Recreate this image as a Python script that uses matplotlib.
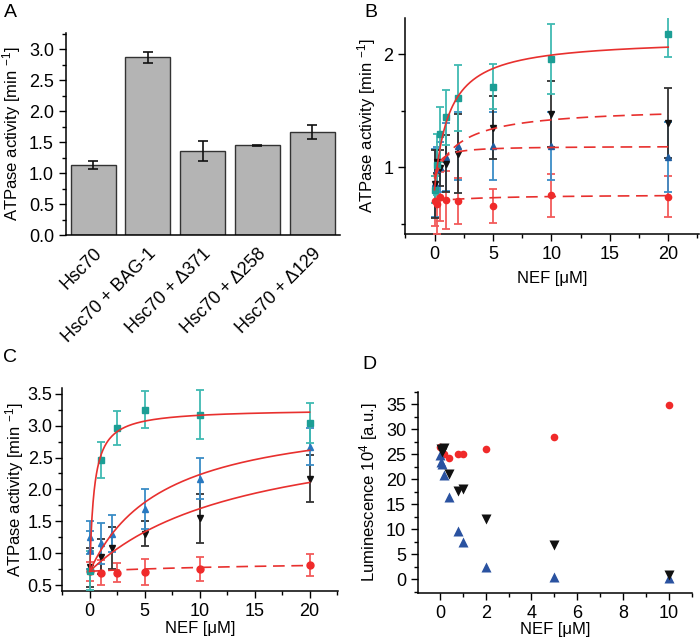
import numpy as np
import matplotlib.pyplot as plt
from matplotlib.ticker import MultipleLocator

plt.rcParams['font.family'] = ['Liberation Sans', 'DejaVu Sans']
plt.rcParams['font.size'] = 13
plt.rcParams['axes.labelsize'] = 12
plt.rcParams['mathtext.default'] = 'regular'

# --- panel A: bars ---
bar_labels = ["Hsc70", "Hsc70 + BAG-1", "Hsc70 + \u0394371", "Hsc70 + \u0394258", "Hsc70 + \u0394129"]
bar_values = [1.13, 2.87, 1.36, 1.45, 1.67]
bar_errors = [0.06, 0.09, 0.16, 0.01, 0.11]

# --- panel B ---
b_x = [0, 0.25, 0.5, 1, 2, 5, 10, 20]
b_teal = [0.80, 1.02, 1.29, 1.44, 1.61, 1.71, 1.96, 2.18]
b_teal_err = [0.12, 0.27, 0.24, 0.24, 0.29, 0.20, 0.31, 0.21]
b_black = [0.85, 1.05, 0.99, 1.03, 1.12, 1.35, 1.47, 1.39]
b_black_err = [0.30, 0.10, 0.16, 0.25, 0.35, 0.28, 0.29, 0.31]
b_blue = [0.86, 0.98, 1.00, 1.09, 1.19, 1.19, 1.19, 1.09]
b_blue_err = [0.30, 0.20, 0.22, 0.30, 0.30, 0.30, 0.30, 0.31]
b_red = [0.70, 0.67, 0.74, 0.71, 0.70, 0.66, 0.75, 0.74]
b_red_err = [0.22, 0.26, 0.22, 0.26, 0.20, 0.15, 0.19, 0.18]
# hyperbolic fits: y0, amplitude, K
b_fit_teal = (0.80, 1.34, 1.25)
b_fit_black = (0.90, 0.632, 2.18)
b_fit_blue = (0.90, 0.286, 0.43)
b_fit_red = (0.70, 0.06, 5.0)

# --- panel C ---
c_x_teal = [0, 1, 2.5, 5, 10, 20]
c_teal = [0.73, 2.46, 2.96, 3.25, 3.17, 3.04]
c_teal_err = [0.30, 0.28, 0.27, 0.29, 0.38, 0.32]
c_x_blue = [0, 0, 1, 2, 5, 10, 20]
c_blue = [1.25, 1.05, 1.16, 1.31, 1.69, 2.17, 2.67]
c_blue_err = [0.26, 0.30, 0.32, 0.29, 0.31, 0.32, 0.29]
c_x_black = [0, 1, 2, 5, 10, 20]
c_black = [0.78, 0.95, 1.09, 1.31, 1.55, 2.17]
c_black_err = [0.30, 0.27, 0.33, 0.20, 0.38, 0.37]
c_x_red = [0, 1, 2.5, 5, 10, 20]
c_red = [0.72, 0.70, 0.70, 0.71, 0.75, 0.82]
c_red_err = [0.15, 0.19, 0.15, 0.20, 0.19, 0.17]
c_fit_teal = (0.72, 2.54, 0.405)
c_fit_blue = (0.72, 2.53, 6.73)
c_fit_black = (0.72, 2.39, 14.4)
c_fit_red = (0.72, 0.18, 20.0)

# --- panel D ---
d_x_red = [0, 0.2, 0.4, 0.8, 1, 2, 5, 10]
d_red = [26.5, 25.0, 24.3, 25.1, 25.1, 26.1, 28.4, 34.9]
d_x_black = [0.05, 0.1, 0.2, 0.4, 0.8, 1, 2, 5, 10]
d_black = [26.0, 25.5, 26.3, 21.1, 17.7, 18.0, 12.1, 6.9, 0.9]
d_x_blue = [0, 0.05, 0.1, 0.2, 0.4, 0.8, 1, 2, 5, 10]
d_blue = [24.8, 23.5, 23.1, 20.8, 16.5, 9.6, 7.5, 2.5, 0.5, 0.2]

teal, teal_e = '#1c9e95', '#40bab2'
blue, blue_e = '#1f5c9e', '#3a8cc6'
blue_c = '#2878c0'
black, black_e = '#111111', '#333333'
red, red_e = '#f02a2a', '#f25a5a'
fitred = '#e8302e'


def hyper(p, x):
    y0, a, k = p
    return y0 + a * x / (k + x)


def style(ax):
    for s in ['top', 'right']:
        ax.spines[s].set_visible(False)
    for s in ['left', 'bottom']:
        ax.spines[s].set_linewidth(1.1)
    ax.tick_params(which='major', direction='out', length=5, width=1)
    ax.tick_params(which='minor', direction='out', length=3, width=1)


def errpts(ax, x, y, e, mk, mc, ec, ms):
    ax.errorbar(x, y, yerr=e, fmt=mk, color=mc, ecolor=ec, ms=ms,
                elinewidth=1.3, capsize=2.8, capthick=1.3, zorder=3)


fig = plt.figure(figsize=(7, 6.39), dpi=100)

# A
axA = fig.add_axes([0.094, 0.632, 0.391, 0.316])
pos = np.arange(len(bar_values))
axA.bar(pos, bar_values, width=0.82, color='#b4b4b4', edgecolor='#333333', linewidth=1)
axA.errorbar(pos, bar_values, yerr=bar_errors, fmt='none', ecolor='#111111',
             elinewidth=1.2, capsize=3.5, capthick=1.2)
axA.set_xlim(-0.5, 4.5)
axA.set_ylim(0, 3.26)
axA.yaxis.set_minor_locator(MultipleLocator(0.25))
axA.set_yticks(np.arange(0, 3.01, 0.5))
axA.set_yticklabels(['%.1f' % v for v in np.arange(0, 3.01, 0.5)])
axA.set_xticks(pos)
axA.set_xticklabels(bar_labels, rotation=45, ha='right', rotation_mode='anchor')
axA.set_ylabel('ATPase activity [min $^{-1}$]', labelpad=4)
style(axA)
axA.tick_params(axis='x', length=0, pad=7)

# B
axB = fig.add_axes([0.579, 0.634, 0.419, 0.338])
xx = np.linspace(0, 20, 400)
errpts(axB, b_x, b_red, b_red_err, 'o', red, red_e, 4.5)
errpts(axB, b_x, b_blue, b_blue_err, '^', blue, blue_e, 4.5)
errpts(axB, b_x, b_black, b_black_err, 'v', black, black_e, 4.5)
errpts(axB, b_x, b_teal, b_teal_err, 's', teal, teal_e, 4)
axB.plot(xx, hyper(b_fit_teal, xx), color=fitred, lw=1.2, zorder=4)
for p in [b_fit_black, b_fit_blue, b_fit_red]:
    axB.plot(xx, hyper(p, xx), color=fitred, lw=1.2, ls=(0, (7, 4)), zorder=4)
axB.set_xlim(-2.5, 22.6)
axB.set_ylim(0.41, 2.32)
axB.xaxis.set_major_locator(MultipleLocator(5))
axB.xaxis.set_minor_locator(MultipleLocator(2.5))
axB.set_yticks([1, 2])
axB.yaxis.set_minor_locator(MultipleLocator(0.5))
axB.set_xlabel('NEF [\u03bcM]', labelpad=6)
axB.set_ylabel('ATPase activity [min $^{-1}$]')
style(axB)

# C
axC = fig.add_axes([0.089, 0.075, 0.394, 0.318])
errpts(axC, c_x_red, c_red, c_red_err, 'o', red, red_e, 5)
errpts(axC, c_x_black, c_black, c_black_err, 'v', black, black_e, 5)
errpts(axC, c_x_blue, c_blue, c_blue_err, '^', blue_c, blue_e, 5)
errpts(axC, c_x_teal, c_teal, c_teal_err, 's', teal, teal_e, 4.5)
for p in [c_fit_teal, c_fit_blue, c_fit_black]:
    axC.plot(xx, hyper(p, xx), color=fitred, lw=1.2, zorder=4)
axC.plot(xx, hyper(c_fit_red, xx), color=fitred, lw=1.2, ls=(0, (7, 4)), zorder=4)
axC.set_xlim(-2.5, 22.6)
axC.set_ylim(0.41, 3.59)
axC.xaxis.set_major_locator(MultipleLocator(5))
axC.xaxis.set_minor_locator(MultipleLocator(2.5))
axC.set_yticks(np.arange(0.5, 3.51, 0.5))
axC.set_yticklabels(['%.1f' % v for v in np.arange(0.5, 3.51, 0.5)])
axC.yaxis.set_minor_locator(MultipleLocator(0.25))
axC.tick_params(axis='y', pad=2)
axC.set_xlabel('NEF [\u03bcM]', labelpad=1)
axC.set_ylabel('ATPase activity [min $^{-1}$]', labelpad=1)
style(axC)

# D
axD = fig.add_axes([0.597, 0.072, 0.391, 0.315])
axD.plot(d_x_red, d_red, 'o', color=red, ms=5.5, mec='none')
axD.plot(d_x_blue, d_blue, '^', color='#2a52a0', ms=6.5, mec='none')
axD.plot(d_x_black, d_black, 'v', color=black, ms=6.5, mec='none')
axD.set_xlim(-0.96, 11)
axD.set_ylim(-2.7, 37.5)
axD.xaxis.set_major_locator(MultipleLocator(2))
axD.xaxis.set_minor_locator(MultipleLocator(1))
axD.yaxis.set_major_locator(MultipleLocator(5))
axD.yaxis.set_minor_locator(MultipleLocator(2.5))
axD.set_xlabel('NEF [\u03bcM]', labelpad=0)
axD.set_ylabel('Luminescence 10$^{4}$ [a.u.]')
style(axD)

fig.text(0.006, 0.993, 'A', fontsize=14, va='top')
fig.text(0.521, 0.993, 'B', fontsize=14, va='top')
fig.text(0.004, 0.454, 'C', fontsize=14, va='top')
fig.text(0.518, 0.443, 'D', fontsize=14, va='top')

fig.savefig('out.png', dpi=100)
